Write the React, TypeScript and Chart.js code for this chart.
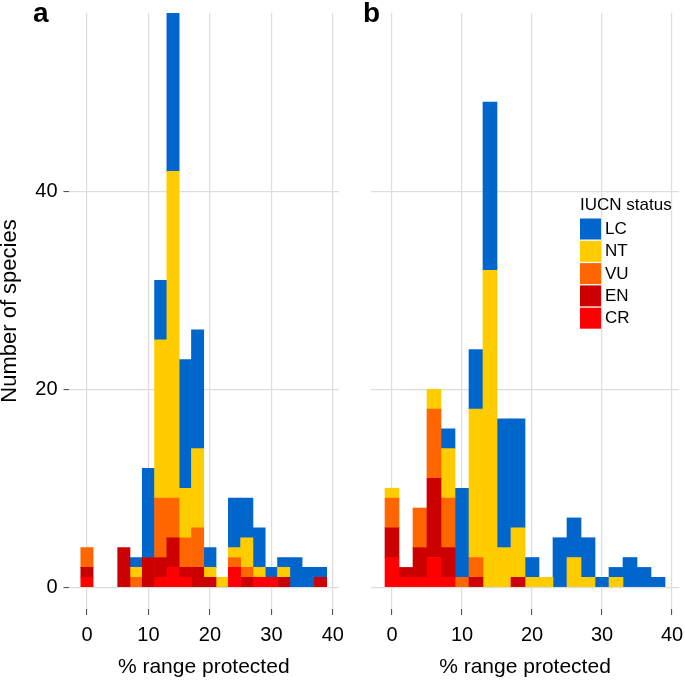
import React, { useEffect, useRef } from 'react';
import { Chart, registerables } from 'chart.js';

Chart.register(...registerables);

// ---- data ----
const BINS = [0, 2, 4, 6, 8, 10, 12, 14, 16, 18, 20, 22, 24, 26, 28, 30, 32, 34, 36, 38];
const X_TICKS = [0, 10, 20, 30, 40];
const Y_TICKS = [0, 20, 40];
const STATUS = ['LC', 'NT', 'VU', 'EN', 'CR'];
const STATUS_COLORS = ['#0066CC', '#FFCC00', '#FF6600', '#CC0000', '#FF0000'];

// panel a
const A_CR = [1, 0, 0, 0, 0, 0, 1, 2, 1, 0, 0, 0, 2, 0, 1, 1, 0, 0, 0, 0];
const A_EN = [1, 0, 0, 4, 0, 3, 2, 3, 1, 2, 1, 0, 0, 1, 0, 0, 1, 0, 0, 1];
const A_VU = [2, 0, 0, 0, 1, 0, 6, 4, 3, 4, 0, 0, 1, 1, 0, 0, 0, 0, 0, 0];
const A_NT = [0, 0, 0, 0, 1, 0, 16, 33, 5, 8, 1, 1, 1, 3, 1, 0, 1, 0, 0, 0];
const A_LC = [0, 0, 0, 0, 1, 9, 6, 16, 13, 12, 2, 0, 5, 4, 4, 1, 1, 3, 2, 1];

// panel b
const B_CR = [3, 1, 1, 3, 1, 0, 0, 0, 0, 0, 0, 0, 0, 0, 0, 0, 0, 0, 0, 0];
const B_EN = [3, 1, 3, 8, 3, 0, 1, 0, 0, 1, 0, 0, 0, 0, 0, 0, 0, 0, 0, 0];
const B_VU = [3, 0, 4, 7, 5, 1, 2, 0, 0, 0, 0, 0, 0, 0, 0, 0, 0, 0, 0, 0];
const B_NT = [1, 0, 0, 2, 5, 0, 15, 32, 4, 5, 1, 1, 0, 3, 1, 0, 1, 0, 0, 0];
const B_LC = [0, 0, 0, 0, 2, 9, 6, 17, 13, 11, 2, 0, 5, 4, 4, 1, 1, 3, 2, 1];

const FONT = '"Liberation Sans", Arial, Helvetica, sans-serif';
const GRID = '#DDDDDD';
const TEXT = '#000000';

Chart.defaults.font.family = FONT;

function buildDatasets(cr: number[], en: number[], vu: number[], nt: number[], lc: number[]) {
  // stack from bottom: CR, EN, VU, NT, LC
  const series = [
    { label: 'CR', values: cr, color: STATUS_COLORS[4] },
    { label: 'EN', values: en, color: STATUS_COLORS[3] },
    { label: 'VU', values: vu, color: STATUS_COLORS[2] },
    { label: 'NT', values: nt, color: STATUS_COLORS[1] },
    { label: 'LC', values: lc, color: STATUS_COLORS[0] },
  ];
  return series.map((s) => ({
    label: s.label,
    data: BINS.map((b, i) => ({ x: b, y: s.values[i] === 0 ? null : s.values[i] })),
    backgroundColor: s.color,
    borderWidth: 0,
    barPercentage: 1,
    categoryPercentage: 1,
    stack: 's',
  }));
}

function overlayPlugin(panelLabel: string, labelX: number, withLegend: boolean) {
  return {
    id: 'overlay_' + panelLabel,
    afterDraw(chart: any) {
      const ctx = chart.ctx;
      ctx.save();
      ctx.fillStyle = TEXT;
      ctx.textAlign = 'left';
      ctx.textBaseline = 'alphabetic';
      ctx.font = 'bold 28px ' + FONT;
      ctx.fillText(panelLabel, labelX, 22);
      if (withLegend) {
        const lx = 237;
        ctx.font = '17px ' + FONT;
        ctx.fillText('IUCN status', lx, 210);
        STATUS.forEach((s, i) => {
          const y = 218.5 + i * 22.3;
          ctx.fillStyle = STATUS_COLORS[i];
          ctx.fillRect(lx, y, 21, 21);
          ctx.fillStyle = TEXT;
          ctx.textBaseline = 'middle';
          ctx.fillText(s, lx + 25, y + 11);
          ctx.textBaseline = 'alphabetic';
        });
      }
      ctx.restore();
    },
  };
}

function clearPadding(s: any) {
  s.paddingLeft = 0;
  s.paddingRight = 0;
  s.paddingTop = 0;
  s.paddingBottom = 0;
}

function makeConfig(
  datasets: any[],
  showY: boolean,
  yWidth: number,
  padRight: number,
  plugin: any
): any {
  return {
    type: 'bar',
    data: { datasets },
    plugins: [plugin],
    options: {
      responsive: false,
      animation: false,
      devicePixelRatio: 1,
      layout: { padding: { top: 13, right: padRight, left: 0, bottom: 0 } },
      plugins: { legend: { display: false }, tooltip: { enabled: false } },
      scales: {
        x: {
          type: 'linear',
          stacked: true,
          min: -3,
          max: 41,
          offset: false,
          afterBuildTicks: (s: any) => {
            s.ticks = X_TICKS.map((v) => ({ value: v }));
          },
          afterFit: (s: any) => {
            s.height = 71;
            clearPadding(s);
          },
          grid: {
            color: GRID,
            lineWidth: 1.2,
            offset: false,
            drawTicks: true,
            tickLength: 6,
            tickColor: '#444444',
            tickWidth: 1,
          },
          border: { display: false },
          ticks: {
            font: { size: 20 },
            color: TEXT,
            padding: 8,
            maxRotation: 0,
            autoSkip: false,
          },
          title: {
            display: true,
            text: '% range protected',
            font: { size: 21 },
            color: TEXT,
            padding: { top: 0, bottom: 0 },
          },
        },
        y: {
          type: 'linear',
          stacked: true,
          min: -2.2,
          max: 58,
          afterBuildTicks: (s: any) => {
            s.ticks = Y_TICKS.map((v) => ({ value: v }));
          },
          afterFit: (s: any) => {
            s.width = yWidth;
            clearPadding(s);
          },
          grid: {
            color: GRID,
            lineWidth: 1.2,
            drawTicks: showY,
            tickLength: showY ? 5 : 0,
            tickColor: '#444444',
            tickWidth: 1,
          },
          border: { display: false },
          ticks: {
            display: showY,
            font: { size: 20 },
            color: TEXT,
            padding: 6,
          },
          title: {
            display: showY,
            text: 'Number of species',
            font: { size: 22, lineHeight: 0.9 },
            color: TEXT,
            padding: 0,
          },
        },
      },
    },
  };
}

export default function App() {
  const refA = useRef<HTMLCanvasElement | null>(null);
  const refB = useRef<HTMLCanvasElement | null>(null);

  useEffect(() => {
    const chartA = new Chart(
      refA.current as HTMLCanvasElement,
      makeConfig(buildDatasets(A_CR, A_EN, A_VU, A_NT, A_LC), true, 68.5, 4, overlayPlugin('a', 33, false))
    );
    const chartB = new Chart(
      refB.current as HTMLCanvasElement,
      makeConfig(buildDatasets(B_CR, B_EN, B_VU, B_NT, B_LC), false, 28, 6, overlayPlugin('b', 20, true))
    );
    return () => {
      chartA.destroy();
      chartB.destroy();
    };
  }, []);

  return (
    <div style={{ position: 'absolute', left: 0, top: 0, width: 685, height: 680, background: '#fff' }}>
      <canvas
        ref={refA}
        width={343}
        height={680}
        style={{ position: 'absolute', left: 0, top: 0, width: 343, height: 680, display: 'block' }}
      />
      <canvas
        ref={refB}
        width={342}
        height={680}
        style={{ position: 'absolute', left: 343, top: 0, width: 342, height: 680, display: 'block' }}
      />
    </div>
  );
}
